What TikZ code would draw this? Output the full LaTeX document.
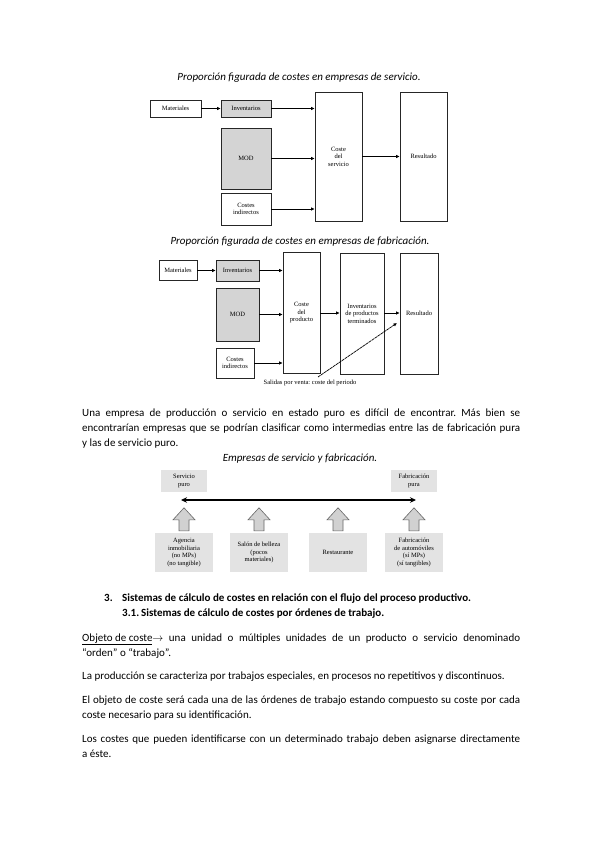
\documentclass[tikz,border=0pt]{standalone}
\usepackage{fontspec}
\setmainfont{Carlito}
\newfontfamily\dgm{Liberation Serif}
\usetikzlibrary{arrows.meta}
\frenchspacing
\begin{document}
\begin{tikzpicture}[x=1pt,y=-1pt,
  box/.style={draw=black!85,line width=0.7pt,inner sep=0pt,align=center,
    font=\dgm\fontsize{6.5}{7.5}\selectfont},
  gbox/.style={box,fill=black!17},
  lbox/.style={fill=black!11,inner sep=0pt,align=center,
    font=\dgm\fontsize{6.5}{7.5}\selectfont},
  arr/.style={-{Latex[length=3.5pt,width=3.5pt]},line width=0.7pt},
  ttl/.style={font=\fontsize{11}{13}\selectfont\itshape,anchor=base,inner sep=0pt},
  body/.style={font=\fontsize{11}{13}\selectfont,anchor=base west,inner sep=0pt},
  head/.style={font=\fontsize{11}{13}\selectfont\bfseries,anchor=base west,inner sep=0pt},
  barr/.style={draw=black!60,fill=black!18,line width=0.6pt,line join=miter},
]
\fill[white] (0,0) rectangle (599,848);
\useasboundingbox (0,0) rectangle (599,848);

% ---------- Title 1 ----------
\node[ttl] (t1) at (299,81) {Proporción figurada de costes en empresas de servicio.};

% ---------- Diagram 1 ----------
\node[box,minimum width=51pt,minimum height=17pt] (mat1) at (175.5,108.5) {Materiales};
\node[gbox,minimum width=50pt,minimum height=17pt] (inv1) at (246,108.5) {Inventarios};
\node[gbox,minimum width=50pt,minimum height=61pt] (mod1) at (246,158.5) {MOD};
\node[box,minimum width=50pt,minimum height=32pt] (ci1) at (246,209) {Costes\\indirectos};
\node[box,minimum width=47pt,minimum height=129pt] (cs1) at (338.5,156.5) {Coste\\del\\servicio};
\node[box,minimum width=47pt,minimum height=129pt] (res1) at (423.5,156.5) {Resultado};
\draw[arr] (mat1.east) -- (inv1.west);
\draw[arr] (inv1.east) -- (inv1.east -| cs1.west);
\draw[arr] (mod1.east) -- (mod1.east -| cs1.west);
\draw[arr] (ci1.east) -- (ci1.east -| cs1.west);
\draw[arr] (cs1.east) -- (res1.west);

% ---------- Title 2 ----------
\node[ttl] (t2) at (300,244) {Proporción figurada de costes en empresas de fabricación.};

% ---------- Diagram 2 ----------
\node[box,minimum width=38pt,minimum height=20pt] (mat2) at (178,270.5) {Materiales};
\node[gbox,minimum width=43pt,minimum height=21pt] (inv2) at (237.5,270.5) {Inventarios};
\node[gbox,minimum width=43pt,minimum height=53pt] (mod2) at (237.5,314.5) {MOD};
\node[box,minimum width=38pt,minimum height=30pt] (ci2) at (235,363) {Costes\\indirectos};
\node[box,minimum width=37pt,minimum height=121pt] (cp2) at (301.5,313) {Coste\\del\\producto};
\node[box,minimum width=44pt,minimum height=121pt] (ip2) at (362,313.5) {Inventarios\\de productos\\terminados};
\node[box,minimum width=38pt,minimum height=121pt] (res2) at (419,313.5) {Resultado};
\draw[arr] (mat2.east) -- (inv2.west);
\draw[arr] (inv2.east) -- (inv2.east -| cp2.west);
\draw[arr] (mod2.east) -- (mod2.east -| cp2.west);
\draw[arr] (ci2.east) -- (ci2.east -| cp2.west);
\draw[arr] (cp2.east) -- (cp2.east -| ip2.west);
\draw[arr] (cp2.east -| ip2.east) -- (cp2.east -| res2.west);
\node[inner sep=0pt,font=\dgm\fontsize{6.5}{7.5}\selectfont] (sal) at (310,383) {Salidas por venta: coste del periodo};
\coordinate (salstart) at (318,377);
\draw[arr,dash pattern=on 3pt off 0.6pt] (salstart) -- (397,323);

% ---------- Paragraph ----------
\node[body] (p1) at (82,416) {\makebox[438pt][s]{Una empresa de producción o servicio en estado puro es difícil de encontrar. Más bien se}};
\node[body] (p2) at (82,431) {\makebox[438pt][s]{encontrarían empresas que se podrían clasificar como intermedias entre las de fabricación pura}};
\node[body] (p3) at (82,446) {y las de servicio puro.};

% ---------- Title 3 ----------
\node[ttl] (t3) at (300,461) {Empresas de servicio y fabricación.};

% ---------- Diagram 3 ----------
\node[lbox,minimum width=46pt,minimum height=22pt] (sp) at (184,481) {Servicio\\puro};
\node[lbox,minimum width=46pt,minimum height=22pt] (fp) at (414,481) {Fabricación\\pura};
\coordinate (la) at (181,500);
\coordinate (ra) at (416,500);
\draw[{Stealth[length=6pt,width=5.5pt]}-{Stealth[length=6pt,width=5.5pt]},line width=1.6pt] (la) -- (ra);

\node[lbox,minimum width=58pt,minimum height=39pt] (b1) at (184,552.5) {Agencia\\inmobiliaria\\(no MPs)\\(no tangible)};
\node[lbox,minimum width=58pt,minimum height=39pt] (b2) at (259,552.5) {Salón de belleza\\(pocos\\materiales)};
\node[lbox,minimum width=58pt,minimum height=39pt] (b3) at (338,552.5) {Restaurante};
\node[lbox,minimum width=58pt,minimum height=39pt] (b4) at (414,552.5) {Fabricación\\de automóviles\\(sí MPs)\\(sí tangibles)};
\foreach \b in {b1,b2,b3,b4}{
  \draw[barr,shift={(\b.north)}] (-5,-2) -- ++(0,-11) -- ++(-6,0) -- ++(11,-12) -- ++(11,12) -- ++(-6,0) -- ++(0,11) -- cycle;
}

% ---------- Headings ----------
\node[head] (h3n) at (104,601) {3.};
\node[head] (h3) at (122,601) {Sistemas de cálculo de costes en relación con el flujo del proceso productivo.};
\node[head] (h31n) at (122,616) {3.1.};
\node[head] (h31) at (141,616) {Sistemas de cálculo de costes por órdenes de trabajo.};

% ---------- Body ----------
\node[body] (q1) at (82,641) {\makebox[438pt][s]{\underline{Objeto de coste}$\rightarrow$ una unidad o múltiples unidades de un producto o servicio denominado}};
\node[body] (q2) at (82,656) {“orden” o “trabajo”.};
\node[body] (q3) at (82,679) {La producción se caracteriza por trabajos especiales, en procesos no repetitivos y discontinuos.};
\node[body] (q4) at (82,703) {\makebox[438pt][s]{El objeto de coste será cada una de las órdenes de trabajo estando compuesto su coste por cada}};
\node[body] (q5) at (82,718) {coste necesario para su identificación.};
\node[body] (q6) at (82,742) {\makebox[438pt][s]{Los costes que pueden identificarse con un determinado trabajo deben asignarse directamente}};
\node[body] (q7) at (82,757) {a éste.};
\end{tikzpicture}
\end{document}
